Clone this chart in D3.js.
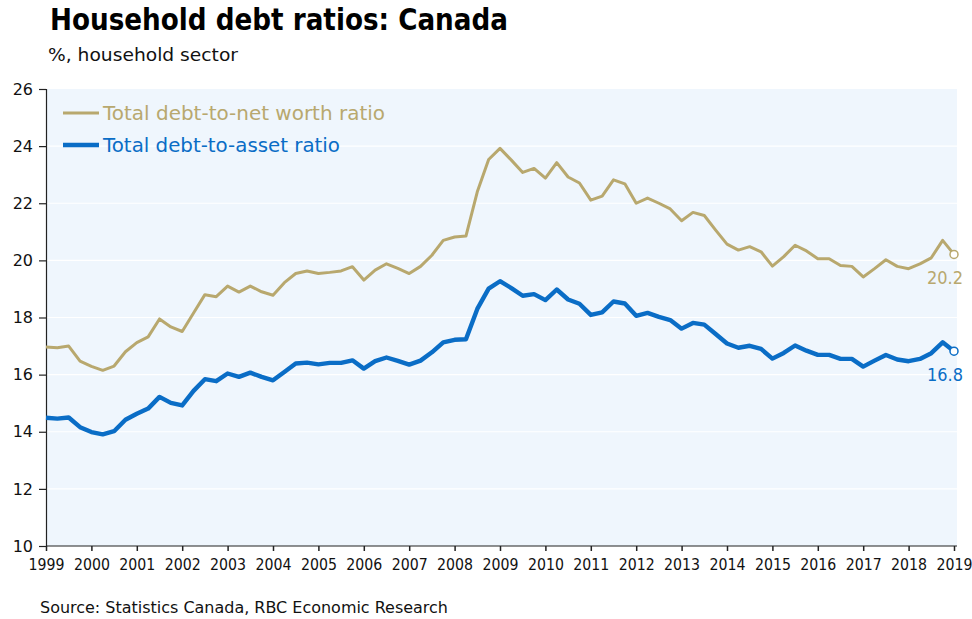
<!DOCTYPE html>
<html><head><meta charset="utf-8">
<script src="https://cdn.jsdelivr.net/npm/d3@7"></script>
<style>
html,body{margin:0;padding:0;background:#fff;}
svg{display:block;font-family:"DejaVu Sans",Verdana,sans-serif;}
</style></head>
<body>
<svg id="chart" width="972" height="619"></svg>
<script>
const yearLabels = ["1999","2000","2001","2002","2003","2004","2005","2006","2007","2008","2009",
  "2010","2011","2012","2013","2014","2015","2016","2017","2018","2019"];
const yTicks = [10,12,14,16,18,20,22,24,26];
const seriesNames = ["Total debt-to-net worth ratio","Total debt-to-asset ratio"];
// quarterly, 1999Q1 .. 2019Q1
const debtToNetWorth = [16.97,16.94,17.00,16.47,16.29,16.15,16.30,16.80,17.12,17.32,17.95,17.67,17.51,18.16,18.80,18.73,
  19.10,18.89,19.10,18.90,18.78,19.22,19.54,19.63,19.54,19.58,19.63,19.78,19.31,19.66,19.88,19.72,
  19.54,19.79,20.18,20.70,20.82,20.85,22.40,23.53,23.92,23.51,23.08,23.22,22.88,23.42,22.92,22.71,
  22.11,22.25,22.82,22.68,22.00,22.18,22.00,21.80,21.39,21.68,21.57,21.06,20.57,20.36,20.48,20.30,
  19.80,20.13,20.53,20.33,20.06,20.06,19.82,19.79,19.42,19.71,20.02,19.79,19.71,19.88,20.09,20.70,20.21];
const debtToAsset = [14.49,14.46,14.50,14.16,13.99,13.91,14.02,14.42,14.63,14.81,15.22,15.01,14.92,15.43,15.84,15.77,
  16.04,15.92,16.07,15.92,15.80,16.09,16.39,16.42,16.36,16.41,16.41,16.50,16.21,16.47,16.60,16.48,
  16.35,16.49,16.78,17.13,17.22,17.24,18.30,19.01,19.27,19.03,18.76,18.82,18.61,18.98,18.63,18.48,
  18.09,18.18,18.56,18.49,18.06,18.16,18.02,17.91,17.61,17.81,17.75,17.42,17.09,16.94,17.01,16.90,
  16.56,16.76,17.02,16.84,16.69,16.69,16.55,16.55,16.28,16.49,16.69,16.53,16.47,16.55,16.75,17.13,16.82];
const endLabels = ["20.2","16.8"];

const colTan = "#B8A86E", colBlue = "#0A6DC6";
const svg = d3.select("#chart");
const L = 46, R = 954, T = 89, B = 546;
const x = d3.scaleLinear().domain([1999, 2019]).range([L, R]);
const y = d3.scaleLinear().domain([10, 26]).range([B, T]);
const qx = i => 1999 + i / 4;

// background
svg.append("rect").attr("x", L).attr("y", T).attr("width", 957 - L).attr("height", B - T).attr("fill", "#EFF6FD");
// grid
svg.append("g").selectAll("line").data(yTicks.filter(v => v > 10 && v < 26)).join("line")
  .attr("x1", L).attr("x2", 957).attr("y1", d => y(d)).attr("y2", d => y(d))
  .attr("stroke", "#ffffff").attr("stroke-width", 1.2);

// axes
const yAxis = svg.append("g").attr("transform", `translate(${L},0)`)
  .call(d3.axisLeft(y).tickValues(yTicks).tickSize(7).tickPadding(6).tickFormat(d3.format("d")));
yAxis.select(".domain").attr("stroke", "#222").attr("stroke-width", 1.2);
yAxis.selectAll(".tick line").attr("stroke", "#222").attr("stroke-width", 1.2);
yAxis.selectAll("text").attr("font-size", 16).attr("fill", "#111").attr("font-family", "DejaVu Sans");

const xAxis = svg.append("g").attr("transform", `translate(0,${B})`)
  .call(d3.axisBottom(x).tickValues(yearLabels.map(Number)).tickSize(5).tickPadding(8).tickFormat((d, i) => yearLabels[i]));
xAxis.select(".domain").attr("d", `M${L},0H957`).attr("stroke", "#222").attr("stroke-width", 1.2);
xAxis.selectAll(".tick line").attr("stroke", "#222").attr("stroke-width", 1.5);
xAxis.selectAll("text").attr("font-size", 15.5).attr("fill", "#111").attr("font-family", "DejaVu Sans")
  .attr("textLength", 36).attr("lengthAdjust", "spacingAndGlyphs");

// lines
const line = d3.line().x((d, i) => x(qx(i))).y(d => y(d));
svg.append("path").datum(debtToNetWorth).attr("d", line).attr("fill", "none")
  .attr("stroke", colTan).attr("stroke-width", 3).attr("stroke-linejoin", "round");
svg.append("path").datum(debtToAsset).attr("d", line).attr("fill", "none")
  .attr("stroke", colBlue).attr("stroke-width", 4.4).attr("stroke-linejoin", "round");

// end markers
[[debtToNetWorth, colTan, endLabels[0]], [debtToAsset, colBlue, endLabels[1]]].forEach(([s, c, lab]) => {
  const n = s.length - 1;
  svg.append("circle").attr("cx", x(qx(n))).attr("cy", y(s[n])).attr("r", 4)
    .attr("fill", "#fff").attr("stroke", c).attr("stroke-width", 1.5);
  svg.append("text").attr("x", 963).attr("y", y(s[n]) + 30).attr("text-anchor", "end")
    .attr("font-size", 18).attr("fill", c)
    .attr("textLength", 36).attr("lengthAdjust", "spacingAndGlyphs").text(lab);
});

// legend
const leg = [[seriesNames[0], colTan, 3, 113, 282], [seriesNames[1], colBlue, 4.4, 145, 237]];
leg.forEach(([name, c, w, ly, tl]) => {
  svg.append("line").attr("x1", 63).attr("x2", 99).attr("y1", ly).attr("y2", ly)
    .attr("stroke", c).attr("stroke-width", w);
  svg.append("text").attr("x", 103).attr("y", ly + 7).attr("font-size", 19.5).attr("fill", c)
    .attr("textLength", tl).attr("lengthAdjust", "spacingAndGlyphs").text(name);
});

// titles
svg.append("text").attr("x", 50).attr("y", 30).attr("font-size", 29.5).attr("font-weight", "bold")
  .attr("fill", "#000").attr("textLength", 458).attr("lengthAdjust", "spacingAndGlyphs")
  .text("Household debt ratios: Canada");
svg.append("text").attr("x", 48).attr("y", 61).attr("font-size", 18.5).attr("fill", "#111")
  .attr("textLength", 190).attr("lengthAdjust", "spacingAndGlyphs").text("%, household sector");
svg.append("text").attr("x", 40).attr("y", 613).attr("font-size", 16).attr("fill", "#111")
  .attr("textLength", 408).attr("lengthAdjust", "spacingAndGlyphs")
  .text("Source: Statistics Canada, RBC Economic Research");
</script>
</body></html>
